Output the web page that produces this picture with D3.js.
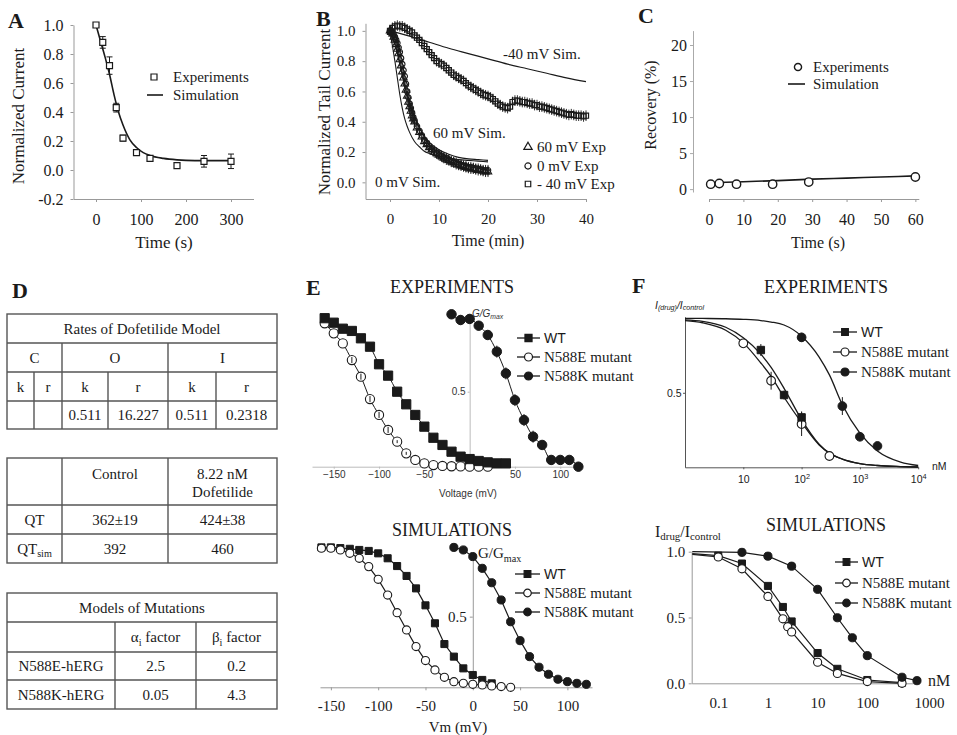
<!DOCTYPE html>
<html>
<head>
<meta charset="utf-8">
<script src="https://cdn.jsdelivr.net/npm/d3@7"></script>
<style>
  body { margin: 0; background: #fff; }
  svg { display: block; }
</style>
</head>
<body>
<div id="figure"></div>
<script>
// ---------- Panel A: block time course ----------
const aTime = [0, 15, 30, 45, 60, 90, 120, 180, 240, 300];
const aExp  = [1.0, 0.88, 0.72, 0.43, 0.22, 0.12, 0.08, 0.03, 0.06, 0.06];
const aErr  = [0, 0.04, 0.06, 0.03, 0.02, 0.02, 0.02, 0, 0.04, 0.05];
const aSimTime = [0, 10, 20, 30, 40, 50, 60, 75, 90, 105, 120, 150, 180, 220, 260, 305];
const aSim     = [1.0, 0.89, 0.78, 0.66, 0.52, 0.40, 0.31, 0.21, 0.155, 0.12, 0.10, 0.08, 0.07, 0.065, 0.065, 0.065];
const aXTicks = [0, 100, 200, 300];
const aYTicks = [-0.2, 0, 0.2, 0.4, 0.6, 0.8, 1.0];

// ---------- Panel B: tail current at three voltages ----------
const bFastT  = [0, 0.25, 0.5, 0.75, 1, 1.25, 1.5, 1.75, 2, 2.25, 2.5, 2.75, 3, 3.25, 3.5, 3.75, 4, 4.25, 4.5, 4.75, 5,
                 5.5, 6, 6.5, 7, 7.5, 8, 8.5, 9, 9.5, 10, 10.5, 11, 11.5, 12, 12.5, 13, 13.5, 14, 14.5, 15,
                 15.5, 16, 16.5, 17, 17.5, 18, 18.5, 19, 19.5, 20];
const bExp0   = [1.0, 1.0, 0.99, 0.975, 0.96, 0.94, 0.92, 0.89, 0.86, 0.82, 0.78, 0.74, 0.70, 0.65, 0.60, 0.56, 0.52, 0.49, 0.46, 0.43, 0.41,
                 0.37, 0.34, 0.31, 0.28, 0.26, 0.24, 0.22, 0.21, 0.195, 0.185, 0.175, 0.165, 0.16, 0.15, 0.14, 0.135, 0.13, 0.12, 0.115, 0.11,
                 0.105, 0.10, 0.10, 0.095, 0.09, 0.09, 0.085, 0.08, 0.08, 0.08];
const bExp60  = [1.0, 0.99, 0.98, 0.96, 0.94, 0.91, 0.88, 0.85, 0.81, 0.77, 0.73, 0.69, 0.65, 0.61, 0.57, 0.53, 0.50, 0.47, 0.44, 0.42, 0.40,
                 0.36, 0.33, 0.30, 0.27, 0.25, 0.23, 0.215, 0.20, 0.19, 0.18, 0.17, 0.16, 0.15, 0.145, 0.135, 0.13, 0.12, 0.115, 0.11, 0.105,
                 0.10, 0.095, 0.09, 0.09, 0.085, 0.08, 0.08, 0.075, 0.07, 0.07];
const bSlowT  = [0, 0.5, 1, 1.5, 2, 2.5, 3, 3.5, 4, 4.5, 5, 5.5, 6, 6.5, 7, 7.5, 8, 8.5, 9, 9.5, 10,
                 10.5, 11, 11.5, 12, 12.5, 13, 13.5, 14, 14.5, 15, 15.5, 16, 16.5, 17, 17.5, 18, 18.5, 19, 19.5, 20,
                 20.5, 21, 21.5, 22, 22.5, 23, 23.5, 24, 24.5, 25, 25.5, 26, 26.5, 27, 27.5, 28, 28.5, 29, 29.5, 30,
                 30.5, 31, 31.5, 32, 32.5, 33, 33.5, 34, 34.5, 35, 35.5, 36, 36.5, 37, 37.5, 38, 38.5, 39, 39.5, 40];
const bExpM40 = [1.0, 1.02, 1.03, 1.035, 1.03, 1.03, 1.02, 1.01, 1.0, 0.99, 0.97, 0.955, 0.94, 0.92, 0.90, 0.88, 0.86, 0.84, 0.82, 0.80, 0.79,
                 0.78, 0.77, 0.755, 0.74, 0.725, 0.71, 0.70, 0.69, 0.68, 0.67, 0.655, 0.64, 0.63, 0.62, 0.61, 0.60, 0.59, 0.58, 0.575, 0.57,
                 0.56, 0.55, 0.535, 0.52, 0.51, 0.50, 0.495, 0.49, 0.50, 0.53, 0.54, 0.54, 0.535, 0.53, 0.53, 0.525, 0.52, 0.52, 0.51, 0.51,
                 0.50, 0.50, 0.495, 0.49, 0.485, 0.48, 0.475, 0.47, 0.465, 0.46, 0.455, 0.45, 0.445, 0.45, 0.445, 0.44, 0.44, 0.44, 0.435, 0.44];
const bErr = 0.035;
const bSimFastT = [0, 0.5, 1, 1.5, 2, 2.5, 3, 3.5, 4, 5, 6, 7, 8, 10, 12, 14, 16, 18, 20];
const bSim0     = [1.0, 0.90, 0.80, 0.69, 0.58, 0.49, 0.42, 0.37, 0.33, 0.27, 0.235, 0.205, 0.19, 0.17, 0.158, 0.15, 0.145, 0.14, 0.135];
const bSim60    = [1.0, 0.96, 0.91, 0.85, 0.78, 0.71, 0.64, 0.575, 0.52, 0.43, 0.36, 0.305, 0.265, 0.215, 0.185, 0.165, 0.155, 0.15, 0.145];
const bSimSlowT = [0, 4, 8, 12, 16, 20, 24, 28, 32, 36, 40];
const bSimM40   = [1.0, 0.965, 0.925, 0.885, 0.85, 0.815, 0.78, 0.75, 0.72, 0.69, 0.665];
const bXTicks = [0, 10, 20, 30, 40];
const bYTicks = [0, 0.2, 0.4, 0.6, 0.8, 1.0];

// ---------- Panel C: recovery ----------
const cTime = [0.5, 3, 8, 18.5, 29, 60];
const cExp  = [0.7, 0.8, 0.7, 0.7, 1.0, 1.7];
const cSimTime = [0, 10, 20, 30, 40, 50, 60];
const cSim     = [0.9, 1.05, 1.2, 1.4, 1.55, 1.7, 1.85];
const cXTicks = [0, 10, 20, 30, 40, 50, 60];
const cYTicks = [0, 5, 10, 15, 20];

// ---------- Panel D: tables ----------
const rateTitle  = "Rates of Dofetilide Model";
const rateStates = ["C", "O", "I"];
const rateParams = ["k", "r", "k", "r", "k", "r"];
const rateValues = ["", "", "0.511", "16.227", "0.511", "0.2318"];
const qtHeader = ["", "Control", "8.22 nM\nDofetilide"];
const qtRows   = [["QT", "362±19", "424±38"], ["QT_sim", "392", "460"]];
const mutTitle  = "Models of Mutations";
const mutHeader = ["", "α_i factor", "β_i factor"];
const mutRows   = [["N588E-hERG", "2.5", "0.2"], ["N588K-hERG", "0.05", "4.3"]];

// ---------- Panel E: activation curves ----------
const eWTV  = [-160, -150, -140, -130, -120, -110, -100, -90, -80, -70, -60, -50, -40, -30, -20, -10, 0, 10, 20, 30, 40];
const eWT   = [0.99, 0.96, 0.92, 0.905, 0.856, 0.80, 0.683, 0.607, 0.50, 0.416, 0.345, 0.267, 0.193, 0.145, 0.10, 0.067, 0.051, 0.038, 0.029, 0.022, 0.022];
const eEV   = [-160, -150, -140, -130, -120, -110, -100, -90, -80, -70, -60, -50, -40, -30, -20, -10, 0, 10, 20];
const eE    = [0.956, 0.889, 0.822, 0.711, 0.60, 0.451, 0.345, 0.245, 0.167, 0.089, 0.045, 0.022, 0.011, 0.005, 0.003, 0.002, 0.0, 0.0, 0.0];
const eEErr = [0, 0, 0, 0.02, 0.02, 0.02, 0.02, 0.02, 0.01, 0.01, 0, 0, 0, 0, 0, 0, 0, 0, 0];
const eKV   = [-20, -10, 0, 10, 20, 30, 40, 50, 60, 70, 80, 90, 100, 110, 120];
const eK    = [1.016, 0.978, 0.985, 0.94, 0.878, 0.767, 0.622, 0.444, 0.311, 0.20, 0.145, 0.045, 0.045, 0.045, 0.0];
const eKErr = [0.02, 0.03, 0.03, 0.03, 0.03, 0.04, 0.04, 0.04, 0.04, 0.04, 0.03, 0.03, 0.02, 0.02, 0];
const eXTicks = [-150, -100, -50, 50, 100];

const sWTV = [-160, -150, -140, -130, -120, -110, -100, -90, -80, -70, -60, -50, -40, -30, -20, -10, 0, 10, 20];
const sWT  = [0.99, 0.99, 0.985, 0.98, 0.972, 0.965, 0.948, 0.913, 0.858, 0.788, 0.70, 0.58, 0.453, 0.306, 0.217, 0.134, 0.087, 0.052, 0.028];
const sEV  = [-160, -150, -140, -130, -120, -110, -100, -90, -80, -70, -60, -50, -40, -30, -20, -10, 0, 10, 20, 30, 40];
const sE   = [0.984, 0.984, 0.972, 0.948, 0.913, 0.854, 0.764, 0.653, 0.528, 0.406, 0.288, 0.189, 0.123, 0.071, 0.040, 0.028, 0.021, 0.017, 0.01, 0.005, 0.0];
const sKV  = [-20, -10, 0, 10, 20, 30, 40, 50, 60, 70, 80, 90, 100, 110, 120];
const sK   = [0.99, 0.972, 0.925, 0.842, 0.74, 0.618, 0.464, 0.33, 0.217, 0.142, 0.092, 0.057, 0.04, 0.028, 0.021];
const sXTicks = [-150, -100, -50, 0, 50, 100];

// ---------- Panel F: dofetilide block ----------
const fFitConc = [1, 2, 5, 10, 20, 30, 50, 100, 200, 300, 500, 1000, 2000, 5000, 10000];
const fWTFit   = [0.99, 0.98, 0.94, 0.87, 0.76, 0.67, 0.53, 0.32, 0.155, 0.095, 0.055, 0.025, 0.012, 0.005, 0.002];
const fEFit    = [0.985, 0.97, 0.92, 0.835, 0.70, 0.61, 0.47, 0.30, 0.15, 0.095, 0.055, 0.025, 0.012, 0.005, 0.002];
const fKFit    = [1.0, 0.999, 0.997, 0.993, 0.985, 0.975, 0.955, 0.88, 0.74, 0.62, 0.42, 0.23, 0.11, 0.035, 0.012];
const fWTConc = [20, 50, 100];         const fWT = [0.787, 0.485, 0.335];        const fWTErr = [0.04, 0.03, 0.04];
const fEConc  = [10, 30, 100, 300];    const fE  = [0.832, 0.581, 0.29, 0.076];   const fEErr  = [0, 0.06, 0.08, 0];
const fKConc  = [100, 500, 1000, 2000]; const fK = [0.872, 0.411, 0.205, 0.143]; const fKErr  = [0.03, 0.06, 0.03, 0.02];
const fXTicks = [10, 100, 1000, 10000];

const gWTConc = [0.03, 0.1, 0.3, 1, 2, 3, 10, 25, 100, 500];
const gWT     = [0.985, 0.97, 0.91, 0.74, 0.58, 0.47, 0.23, 0.11, 0.025, 0.005];
const gEConc  = [0.03, 0.1, 0.3, 1, 2, 2.5, 3, 10, 25, 100, 500];
const gE      = [0.98, 0.96, 0.87, 0.66, 0.49, 0.43, 0.39, 0.16, 0.075, 0.013, 0.0];
const gKConc  = [0.03, 0.3, 1, 3, 10, 25, 50, 100, 500, 1000];
const gK      = [1.0, 0.995, 0.966, 0.89, 0.714, 0.498, 0.346, 0.21, 0.046, 0.02];
const gXTicks = [0.1, 1, 10, 100, 1000];
const gYTicks = [0, 0.5, 1.0];

const legendNames = ["WT", "N588E mutant", "N588K mutant"];

// ---------- helpers ----------
const SERIF = "'Liberation Serif', 'Times New Roman', serif";
const SANS = "'Liberation Sans', Arial, sans-serif";
const INK = "#1a1a1a";

const svg = d3.select("#figure").append("svg")
  .attr("width", 957).attr("height", 735)
  .style("background", "#fff");

function label(x, y, s, o = {}) {
  const t = svg.append("text")
    .attr("x", x).attr("y", y)
    .attr("font-family", o.font || SERIF)
    .attr("font-size", o.size || 15)
    .attr("fill", o.fill || INK)
    .attr("text-anchor", o.anchor || "start")
    .attr("dominant-baseline", "central");
  if (o.rotate) t.attr("transform", `rotate(-90,${x},${y})`);
  if (o.italic) t.attr("font-style", "italic");
  if (o.bold) t.attr("font-weight", "bold");
  t.text(s);
  return t;
}

// parts: [text, isSub]
function rich(x, y, parts, o = {}) {
  const t = label(x, y, "", o);
  const fs = o.size || 15;
  let shifted = 0;
  parts.forEach(([s, sub]) => {
    const want = sub ? fs * 0.3 : 0;
    t.append("tspan").attr("dy", want - shifted)
      .attr("font-size", sub ? fs * 0.68 : null).text(s);
    shifted = want;
  });
  return t;
}

function styleAxis(g, font, size, color) {
  g.attr("font-family", font).attr("font-size", size);
  g.select(".domain").attr("stroke", color).attr("stroke-width", 1);
  g.selectAll(".tick line").attr("stroke", color);
  g.selectAll(".tick text").attr("fill", INK);
  return g;
}

function drawLine(xs, ys, x, y, curve, sw = 1.3) {
  svg.append("path").datum(d3.zip(xs, ys))
    .attr("fill", "none").attr("stroke", INK).attr("stroke-width", sw)
    .attr("d", d3.line().x(d => x(d[0])).y(d => y(d[1])).curve(curve || d3.curveLinear));
}

function drawPoints(xs, ys, x, y, shape, size, fill, sw = 1.1) {
  svg.append("g").selectAll("path").data(d3.zip(xs, ys)).join("path")
    .attr("transform", d => `translate(${x(d[0])},${y(d[1])})`)
    .attr("d", d3.symbol().type(shape).size(size))
    .attr("fill", fill).attr("stroke", INK).attr("stroke-width", sw);
}

function drawErr(xs, ys, es, x, y, cap = 0, sw = 1) {
  const data = d3.zip(xs, ys, es).filter(d => d[2] > 0);
  const g = svg.append("g").attr("stroke", INK).attr("stroke-width", sw);
  g.selectAll("line.bar").data(data).join("line").attr("class", "bar")
    .attr("x1", d => x(d[0])).attr("x2", d => x(d[0]))
    .attr("y1", d => y(d[1] - d[2])).attr("y2", d => y(d[1] + d[2]));
  if (cap) {
    [-1, 1].forEach(s => {
      g.selectAll("line.cap" + s).data(data).join("line").attr("class", "cap" + s)
        .attr("x1", d => x(d[0]) - cap).attr("x2", d => x(d[0]) + cap)
        .attr("y1", d => y(d[1] + s * d[2])).attr("y2", d => y(d[1] + s * d[2]));
    });
  }
}

function legendRow(x1, x2, y, shape, size, fill, txt, font, fsize) {
  svg.append("line").attr("x1", x1).attr("x2", x2).attr("y1", y).attr("y2", y)
    .attr("stroke", INK).attr("stroke-width", 1.3);
  svg.append("path").attr("transform", `translate(${(x1 + x2) / 2},${y})`)
    .attr("d", d3.symbol().type(shape).size(size))
    .attr("fill", fill).attr("stroke", INK).attr("stroke-width", 1.2);
  label(x2 + 4, y, txt, { font, size: fsize });
}

function panelLetter(x, y, s) {
  label(x, y, s, { size: 22, bold: true });
}

// ================= Panel A =================
const xA = d3.scaleLinear().domain([-50, 350]).range([73.5, 253.5]);
const yA = d3.scaleLinear().domain([-0.2, 1.0]).range([199, 25]);
styleAxis(svg.append("g").attr("transform", "translate(73.5,0)")
  .call(d3.axisLeft(yA).tickValues(aYTicks).tickFormat(d => d.toFixed(1)).tickSize(3).tickSizeOuter(0).tickPadding(7)),
  SERIF, 16, "#999");
styleAxis(svg.append("g").attr("transform", "translate(0,199)")
  .call(d3.axisBottom(xA).tickValues(aXTicks).tickSize(3).tickSizeOuter(0).tickPadding(12)),
  SERIF, 16, "#999");
drawLine(aSimTime, aSim, xA, yA, d3.curveMonotoneX, 1.6);
drawErr(aTime, aExp, aErr, xA, yA, 3, 1);
drawPoints(aTime, aExp, xA, yA, d3.symbolSquare, 36, "#fff", 1.2);
panelLetter(8, 20, "A");
label(18, 116, "Normalized Current", { rotate: true, anchor: "middle", size: 17 });
label(164, 242, "Time (s)", { anchor: "middle", size: 17 });
svg.append("path").attr("transform", "translate(154,77)").attr("d", d3.symbol().type(d3.symbolSquare).size(36))
  .attr("fill", "#fff").attr("stroke", INK).attr("stroke-width", 1.2);
label(173, 77, "Experiments");
svg.append("line").attr("x1", 147).attr("x2", 163).attr("y1", 95).attr("y2", 95).attr("stroke", INK).attr("stroke-width", 1.6);
label(173, 95, "Simulation");

// ================= Panel B =================
const xB = d3.scaleLinear().domain([-5, 40]).range([365.5, 586]);
const yB = d3.scaleLinear().domain([-0.11, 1.05]).range([199, 23.3]);
styleAxis(svg.append("g").attr("transform", "translate(365.5,0)")
  .call(d3.axisLeft(yB).tickValues(bYTicks).tickFormat(d => d.toFixed(1)).tickSize(3).tickSizeOuter(0).tickPadding(7)),
  SERIF, 15, "#999");
styleAxis(svg.append("g").attr("transform", "translate(0,199)")
  .call(d3.axisBottom(xB).tickValues(bXTicks).tickSize(3).tickSizeOuter(0).tickPadding(11)),
  SERIF, 15, "#999");
const bErrSlow = bSlowT.map(() => bErr);
const bErrFast = bFastT.map(() => bErr);
drawErr(bSlowT, bExpM40, bErrSlow, xB, yB, 0, 0.9);
drawPoints(bSlowT, bExpM40, xB, yB, d3.symbolSquare, 26, "none", 1.2);
drawErr(bFastT, bExp60, bErrFast, xB, yB, 0, 0.9);
drawPoints(bFastT, bExp60, xB, yB, d3.symbolTriangle, 24, "none", 1.1);
drawErr(bFastT, bExp0, bErrFast, xB, yB, 0, 0.9);
drawPoints(bFastT, bExp0, xB, yB, d3.symbolCircle, 24, "none", 1.1);
drawLine(bSimFastT, bSim0, xB, yB, d3.curveMonotoneX, 1.1);
drawLine(bSimFastT, bSim60, xB, yB, d3.curveMonotoneX, 1.1);
drawLine(bSimSlowT, bSimM40, xB, yB, d3.curveMonotoneX, 1.2);
panelLetter(316, 18, "B");
label(324, 112, "Normalized Tail Current", { rotate: true, anchor: "middle", size: 17 });
label(488, 240, "Time (min)", { anchor: "middle", size: 16 });
label(503, 54, "-40 mV Sim.");
label(433, 133, "60 mV Sim.");
label(375, 182, "0 mV Sim.");
[[d3.symbolTriangle, 147, "60 mV Exp"], [d3.symbolCircle, 166, "0 mV  Exp"], [d3.symbolSquare, 184, "- 40 mV  Exp"]]
  .forEach(([shape, y, txt]) => {
    svg.append("path").attr("transform", `translate(528,${y})`).attr("d", d3.symbol().type(shape).size(30))
      .attr("fill", "#fff").attr("stroke", INK).attr("stroke-width", 1.2);
    label(537, y, txt);
  });

// ================= Panel C =================
const xC = d3.scaleLinear().domain([0, 61]).range([709, 918.8]);
const yC = d3.scaleLinear().domain([-1.35, 22]).range([199, 30.6]);
styleAxis(svg.append("g").attr("transform", "translate(693,0)")
  .call(d3.axisLeft(yC.copy().domain([-0.4, 22]).range([192, 30.6])).tickValues(cYTicks).tickSize(3).tickSizeOuter(0).tickPadding(3)),
  SERIF, 16, "#aaa");
styleAxis(svg.append("g").attr("transform", "translate(0,199)")
  .call(d3.axisBottom(xC).tickValues(cXTicks).tickSize(3).tickSizeOuter(0).tickPadding(12)),
  SERIF, 16, "#999");
drawLine(cSimTime, cSim, xC, yC, d3.curveMonotoneX, 1.6);
drawPoints(cTime, cExp, xC, yC, d3.symbolCircle, 55, "#fff", 1.4);
panelLetter(638, 15, "C");
label(650, 105, "Recovery (%)", { rotate: true, anchor: "middle", size: 16 });
label(818, 242, "Time (s)", { anchor: "middle", size: 16 });
svg.append("path").attr("transform", "translate(798,67)").attr("d", d3.symbol().type(d3.symbolCircle).size(40))
  .attr("fill", "#fff").attr("stroke", INK).attr("stroke-width", 1.4);
label(813, 67, "Experiments");
svg.append("line").attr("x1", 788).attr("x2", 805).attr("y1", 84).attr("y2", 84).attr("stroke", INK).attr("stroke-width", 1.6);
label(813, 84, "Simulation");

// ================= Panel D =================
panelLetter(12, 290, "D");
function tableLines(x0, x1, y0, y1, hs, vs) {
  const g = svg.append("g").attr("stroke", "#555").attr("stroke-width", 1.4).attr("fill", "none");
  g.append("rect").attr("x", x0).attr("y", y0).attr("width", x1 - x0).attr("height", y1 - y0);
  hs.forEach(y => g.append("line").attr("x1", x0).attr("x2", x1).attr("y1", y).attr("y2", y));
  vs.forEach(([x, ya, yb]) => g.append("line").attr("x1", x).attr("x2", x).attr("y1", ya).attr("y2", yb));
}
function cell(x, y, str, size = 15) {
  const lines = str.split("\n");
  lines.forEach((ln, i) => {
    const parts = ln.split(/_(\w+)/).map((s, j) => [s, j % 2 === 1]).filter(p => p[0] !== "");
    rich(x, y + (i - (lines.length - 1) / 2) * 18, parts, { anchor: "middle", size });
  });
}
// table 1
tableLines(7, 277, 314, 429, [343, 372, 401], [[62, 343, 429], [168, 343, 429], [34, 372, 429], [108, 372, 429], [216, 372, 429]]);
cell(142, 328.5, rateTitle);
[34.5, 115, 222.5].forEach((cx, i) => cell(cx, 357.5, rateStates[i]));
[20.5, 48, 85, 138, 192, 246.5].forEach((cx, i) => {
  cell(cx, 386.5, rateParams[i]);
  cell(cx, 415, rateValues[i]);
});
// table 2
tableLines(7, 277, 458, 563, [505, 534], [[62, 458, 563], [168, 458, 563]]);
const qtCols = [34.5, 115, 222.5];
qtHeader.forEach((h, i) => { if (h) cell(qtCols[i], h.includes("\n") ? 483 : 474, h); });
qtRows.forEach((row, r) => row.forEach((v, i) => cell(qtCols[i], 519.5 + r * 29, v)));
// table 3
tableLines(7, 277, 593, 709, [622, 652, 680], [[115, 622, 709], [196, 622, 709]]);
const mutCols = [61, 155.5, 236.5];
cell(142, 607.5, mutTitle);
mutHeader.forEach((h, i) => { if (h) cell(mutCols[i], 637, h); });
mutRows.forEach((row, r) => row.forEach((v, i) => cell(mutCols[i], 666 + r * 28.5, v)));

// ================= Panel E (experiments) =================
const xE1 = d3.scaleLinear().domain([-174, 124]).range([312, 582]);
const yE1 = d3.scaleLinear().domain([0, 1.02]).range([466.7, 313.7]);
styleAxis(svg.append("g").attr("transform", `translate(0,${yE1(0)})`)
  .call(d3.axisBottom(xE1).tickValues(eXTicks).tickSize(2).tickSizeOuter(0).tickPadding(2)),
  SANS, 10, "#bbb").selectAll(".tick text").attr("fill", "#333");
styleAxis(svg.append("g").attr("transform", `translate(${xE1(0)},0)`)
  .call(d3.axisLeft(yE1).tickValues([0.5]).tickSize(2).tickSizeOuter(0).tickPadding(2)),
  SANS, 10, "#bbb").selectAll(".tick text").attr("fill", "#333");
drawLine(eWTV, eWT, xE1, yE1, d3.curveMonotoneX, 1);
drawLine(eEV, eE, xE1, yE1, d3.curveMonotoneX, 1);
drawLine(eKV, eK, xE1, yE1, d3.curveMonotoneX, 1);
drawPoints(eEV, eE, xE1, yE1, d3.symbolCircle, 66, "#fff", 1.1);
drawPoints(eWTV, eWT, xE1, yE1, d3.symbolSquare, 85, INK, 1);
drawPoints(eKV, eK, xE1, yE1, d3.symbolCircle, 70, INK, 1);
drawErr(eKV, eK, eKErr, xE1, yE1, 0, 1);
drawErr(eEV, eE, eEErr, xE1, yE1, 0, 1);
panelLetter(306, 287, "E");
label(452, 287, "EXPERIMENTS", { anchor: "middle", size: 18 });
rich(472, 313, [["G/G", false], ["max", true]], { font: SANS, size: 10, italic: true, fill: "#333" });
label(468, 493, "Voltage (mV)", { anchor: "middle", font: SANS, size: 10, fill: "#333" });
legendRow(517, 540, 338, d3.symbolSquare, 50, INK, legendNames[0], SANS, 14);
legendRow(517, 540, 357, d3.symbolCircle, 50, "#fff", legendNames[1], SERIF, 15);
legendRow(517, 540, 376, d3.symbolCircle, 50, INK, legendNames[2], SERIF, 15);

// ================= Panel E (simulations) =================
const xE2 = d3.scaleLinear().domain([-161.5, 126]).range([320, 592]);
const yE2 = d3.scaleLinear().domain([0, 0.915]).range([687.3, 558]);
styleAxis(svg.append("g").attr("transform", `translate(0,${yE2(0)})`)
  .call(d3.axisBottom(xE2).tickValues(sXTicks).tickFormat(d => String(d)).tickSize(3).tickSizeOuter(0).tickPadding(10)),
  SERIF, 15, "#999");
styleAxis(svg.append("g").attr("transform", `translate(${xE2(0)},0)`)
  .call(d3.axisLeft(yE2).tickValues([0.5]).tickSize(3).tickSizeOuter(0).tickPadding(3)),
  SERIF, 15, "#999");
drawLine(sWTV, sWT, xE2, yE2, d3.curveLinear, 1.2);
drawLine(sEV, sE, xE2, yE2, d3.curveLinear, 1.2);
drawLine(sKV, sK, xE2, yE2, d3.curveLinear, 1.2);
drawPoints(sWTV, sWT, xE2, yE2, d3.symbolSquare, 50, INK, 1);
drawPoints(sEV, sE, xE2, yE2, d3.symbolCircle, 52, "#fff", 1.1);
drawPoints(sKV, sK, xE2, yE2, d3.symbolCircle, 52, INK, 1);
label(452, 530, "SIMULATIONS", { anchor: "middle", size: 18 });
rich(478, 553, [["G/G", false], ["max", true]], { size: 15 });
label(458, 727, "Vm (mV)", { anchor: "middle", size: 15 });
legendRow(515, 540, 574, d3.symbolSquare, 45, INK, legendNames[0], SANS, 14);
legendRow(515, 540, 593, d3.symbolCircle, 45, "#fff", legendNames[1], SERIF, 15);
legendRow(515, 540, 612, d3.symbolCircle, 45, INK, legendNames[2], SERIF, 15);

// ================= Panel F (experiments) =================
const xF1 = d3.scaleLog().domain([1, 10000]).range([685, 918.2]);
const yF1 = d3.scaleLinear().domain([0, 1.01]).range([467.3, 316.8]);
const fAxisX = styleAxis(svg.append("g").attr("transform", `translate(0,${yF1(0)})`)
  .call(d3.axisBottom(xF1).tickValues(fXTicks).tickSize(2).tickSizeOuter(0).tickPadding(6)),
  SANS, 10.5, "#555");
fAxisX.selectAll(".tick text").each(function (d) {
  const e = Math.round(Math.log10(d));
  const t = d3.select(this).text("10");
  if (e > 1) t.append("tspan").attr("dy", "-0.45em").attr("font-size", "0.7em").text(e);
});
styleAxis(svg.append("g").attr("transform", `translate(${xF1(1)},0)`)
  .call(d3.axisLeft(yF1).tickValues([0.5]).tickSize(2).tickSizeOuter(0).tickPadding(1.5)),
  SANS, 10.5, "#555");
drawLine(fFitConc, fWTFit, xF1, yF1, d3.curveMonotoneX, 1.3);
drawLine(fFitConc, fEFit, xF1, yF1, d3.curveMonotoneX, 1.3);
drawLine(fFitConc, fKFit, xF1, yF1, d3.curveMonotoneX, 1.3);
drawPoints(fEConc, fE, xF1, yF1, d3.symbolCircle, 60, "#fff", 1.1);
drawPoints(fWTConc, fWT, xF1, yF1, d3.symbolSquare, 55, INK, 1);
drawPoints(fKConc, fK, xF1, yF1, d3.symbolCircle, 60, INK, 1);
drawErr(fWTConc, fWT, fWTErr, xF1, yF1, 0, 1);
drawErr(fEConc, fE, fEErr, xF1, yF1, 0, 1);
drawErr(fKConc, fK, fKErr, xF1, yF1, 0, 1);
panelLetter(632, 285, "F");
label(826, 287, "EXPERIMENTS", { anchor: "middle", size: 18 });
rich(655, 305, [["I", false], ["(drug)", true], ["/I", false], ["control", true]], { font: SANS, size: 10.5, italic: true });
label(932, 466, "nM", { font: SANS, size: 10.5 });
legendRow(833, 857, 332, d3.symbolSquare, 45, INK, legendNames[0], SANS, 14);
legendRow(833, 857, 352, d3.symbolCircle, 50, "#fff", legendNames[1], SERIF, 15);
legendRow(833, 857, 372, d3.symbolCircle, 50, INK, legendNames[2], SERIF, 15);

// ================= Panel F (simulations) =================
const xF2 = d3.scaleLog().domain([0.0292, 832]).range([691.7, 913]);
const yF2 = d3.scaleLinear().domain([0, 1]).range([683.3, 551.7]);
const gAxisX = styleAxis(svg.append("g").attr("transform", `translate(0,${yF2(0)})`)
  .call(d3.axisBottom(xF2).tickValues(gXTicks).tickFormat(d => String(d)).tickSize(0).tickSizeOuter(0).tickPadding(14)),
  SERIF, 15, "#999");
gAxisX.selectAll(".tick text").filter(d => d === 1000).attr("dx", 12);
styleAxis(svg.append("g").attr("transform", `translate(${xF2.range()[0]},0)`)
  .call(d3.axisLeft(yF2).tickValues(gYTicks).tickFormat(d => d.toFixed(1)).tickSize(3).tickSizeOuter(0).tickPadding(3.5)),
  SERIF, 15, "#999");
const markersOnly = c => c >= 0.1;
[[gWTConc, gWT], [gEConc, gE], [gKConc, gK]].forEach(([cs, vs]) => drawLine(cs, vs, xF2, yF2, d3.curveLinear, 1.2));
const pick = (cs, vs) => [cs.filter(markersOnly), vs.filter((v, i) => markersOnly(cs[i]))];
drawPoints(...pick(gWTConc, gWT), xF2, yF2, d3.symbolSquare, 50, INK, 1);
drawPoints(...pick(gEConc, gE), xF2, yF2, d3.symbolCircle, 52, "#fff", 1.1);
drawPoints(...pick(gKConc, gK), xF2, yF2, d3.symbolCircle, 52, INK, 1);
label(826, 525, "SIMULATIONS", { anchor: "middle", size: 18 });
rich(655, 531, [["I", false], ["drug", true], ["/I", false], ["control", true]], { size: 16 });
label(928, 680, "nM", { size: 16 });
legendRow(835, 858, 562, d3.symbolSquare, 45, INK, legendNames[0], SANS, 14);
legendRow(835, 858, 583, d3.symbolCircle, 45, "#fff", legendNames[1], SERIF, 15);
legendRow(835, 858, 603, d3.symbolCircle, 45, INK, legendNames[2], SERIF, 15);
</script>
</body>
</html>
